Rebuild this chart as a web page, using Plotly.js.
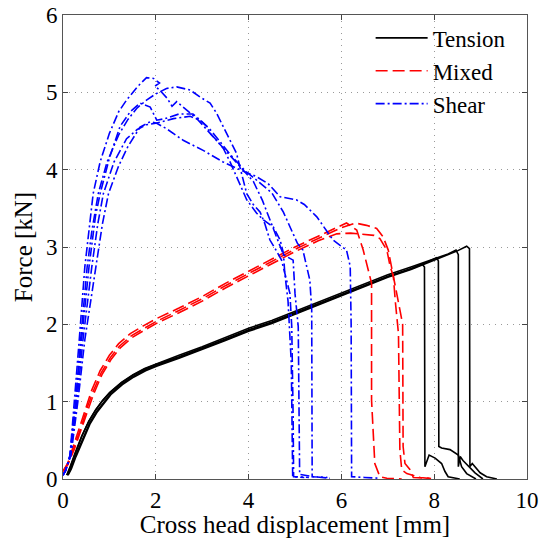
<!DOCTYPE html>
<html>
<head>
<meta charset="utf-8">
<script src="https://cdn.plot.ly/plotly-3.0.1.min.js"></script>
<style>html,body{margin:0;padding:0;background:#fff;}#chart{width:540px;height:538px;}</style>
</head>
<body>
<div id="chart"></div>
<script>
// ---- Tension (black solid) ----
const tension1X = [0.08,0.15,0.25,0.4,0.55,0.7,0.85,1.0,1.25,1.5,1.75,2.0,2.5,3.0,3.5,4.0,4.5,5.0,5.5,6.0,6.5,7.0,7.5,7.74,7.79,7.8,7.89,8.02,8.16,8.23,8.3,8.55];
const tension1Y = [0.05,0.15,0.32,0.55,0.74,0.89,1.01,1.11,1.24,1.34,1.42,1.48,1.58,1.69,1.81,1.93,2.03,2.15,2.27,2.39,2.51,2.62,2.72,2.78,2.74,0.16,0.31,0.27,0.2,0.1,0.03,0.0];
const tension2X = [0.1,0.17,0.27,0.42,0.57,0.72,0.87,1.02,1.27,1.52,1.77,2.02,2.5,3.0,3.5,4.0,4.5,5.0,5.5,6.0,6.5,7.0,7.5,7.8,8.05,8.09,8.1,8.16,8.34,8.52,8.59,8.7,8.9];
const tension2Y = [0.05,0.14,0.3,0.52,0.72,0.87,0.99,1.1,1.23,1.33,1.41,1.47,1.57,1.68,1.8,1.92,2.02,2.14,2.26,2.38,2.5,2.62,2.72,2.79,2.86,2.82,0.42,0.4,0.38,0.31,0.16,0.07,0.0];
const tension3X = [0.09,0.16,0.26,0.41,0.56,0.71,0.86,1.01,1.26,1.51,1.76,2.01,2.5,3.0,3.5,4.0,4.5,5.0,5.5,6.0,6.5,7.0,7.5,8.0,8.3,8.47,8.52,8.52,8.56,8.62,8.72,8.88,9.05];
const tension3Y = [0.05,0.16,0.33,0.56,0.75,0.9,1.02,1.12,1.25,1.35,1.43,1.49,1.6,1.71,1.83,1.95,2.05,2.17,2.29,2.41,2.53,2.64,2.74,2.84,2.91,2.96,2.9,0.16,0.29,0.24,0.18,0.08,0.0];
const tension4X = [0.11,0.18,0.28,0.43,0.58,0.73,0.88,1.03,1.28,1.53,1.78,2.03,2.5,3.0,3.5,4.0,4.5,5.0,5.5,6.0,6.5,7.0,7.5,8.0,8.5,8.7,8.76,8.77,8.82,8.99,9.13,9.35];
const tension4Y = [0.05,0.13,0.29,0.51,0.71,0.86,0.98,1.09,1.22,1.32,1.4,1.46,1.56,1.67,1.79,1.91,2.01,2.13,2.25,2.37,2.49,2.61,2.71,2.83,2.95,3.01,2.98,0.16,0.2,0.08,0.03,0.0];

// ---- Mixed (red dashed) ----
const mixed1X = [0.0,0.1,0.22,0.37,0.5,0.62,0.8,1.0,1.2,1.45,1.73,2.0,2.5,3.0,3.5,4.0,4.5,5.0,5.5,5.9,6.11,6.33,6.47,6.58,6.65,6.65,6.7,6.72,6.83,6.98,7.3];
const mixed1Y = [0.1,0.2,0.42,0.7,0.95,1.15,1.4,1.6,1.75,1.88,1.98,2.07,2.21,2.36,2.53,2.69,2.84,3.0,3.14,3.25,3.31,3.22,2.96,2.7,2.53,1.02,0.4,0.2,0.03,0.01,0.0];
const mixed2X = [0.0,0.1,0.23,0.39,0.52,0.64,0.82,1.02,1.22,1.47,1.75,2.02,2.5,3.0,3.5,4.0,4.5,5.0,5.5,6.0,6.3,6.54,6.76,6.9,7.01,7.08,7.19,7.26,7.32,7.33,7.37,7.48,7.55,7.9];
const mixed2Y = [0.1,0.19,0.4,0.67,0.92,1.12,1.37,1.57,1.72,1.85,1.95,2.04,2.18,2.33,2.5,2.66,2.81,2.97,3.11,3.25,3.31,3.28,3.24,3.13,2.96,2.75,2.44,2.19,2.0,0.42,0.2,0.12,0.02,0.01];
const mixed3X = [0.0,0.1,0.24,0.4,0.54,0.66,0.84,1.04,1.24,1.49,1.77,2.04,2.5,3.0,3.5,4.0,4.5,5.0,5.5,5.9,6.2,6.5,6.7,6.83,6.98,7.05,7.12,7.16,7.2,7.23,7.26,7.3,7.41,7.7,8.0];
const mixed3Y = [0.1,0.18,0.38,0.65,0.9,1.1,1.35,1.55,1.7,1.83,1.93,2.02,2.15,2.3,2.47,2.63,2.78,2.94,3.08,3.17,3.18,3.16,3.15,3.11,2.96,2.75,2.62,2.31,2.05,1.88,0.38,0.12,0.07,0.02,0.0];

// ---- Shear (blue dash-dot) ----
const shear1X = [0.0,0.05,0.15,0.25,0.35,0.47,0.58,0.65,0.8,1.0,1.2,1.37,1.6,1.8,1.95,2.08,1.98,2.1,2.25,2.35,2.45,2.6,2.9,3.2,3.5,3.8,4.1,4.3,4.5,4.75,4.96,5.0,5.07,5.1,5.4,5.75];
const shear1Y = [0.05,0.1,0.3,1.0,1.8,2.74,3.3,3.69,4.1,4.47,4.75,4.9,5.07,5.19,5.18,5.12,5.08,5.02,4.92,4.82,4.88,4.8,4.65,4.45,4.25,4.05,3.85,3.6,3.3,2.9,2.83,2.4,1.97,0.06,0.03,0.01];
const shear2X = [0.0,0.05,0.15,0.27,0.38,0.52,0.62,0.76,0.95,1.2,1.4,1.6,1.8,2.0,2.23,2.45,2.74,2.95,3.17,3.31,3.45,3.6,3.74,3.81,3.89,3.96,4.1,4.25,4.35,4.46,4.6,4.71,4.89,4.93,4.96,4.97,5.3];
const shear2Y = [0.05,0.1,0.3,1.0,1.8,2.74,3.2,3.69,4.1,4.45,4.65,4.8,4.9,4.98,5.05,5.07,5.03,4.94,4.86,4.73,4.56,4.38,4.21,4.04,3.87,3.69,3.55,3.45,3.3,3.09,2.95,2.83,2.4,1.97,0.8,0.03,0.02];
const shear3X = [0.0,0.05,0.15,0.28,0.4,0.56,0.7,0.8,1.0,1.23,1.45,1.66,1.88,2.02,2.2,2.5,2.8,3.0,3.2,3.4,3.6,3.9,4.2,4.5,4.75,4.9,5.05,5.17,5.25,5.32,5.36,5.37,5.37,5.7];
const shear3Y = [0.05,0.1,0.3,1.0,1.8,2.74,3.4,3.69,4.15,4.56,4.75,4.86,4.81,4.64,4.66,4.72,4.72,4.62,4.5,4.35,4.2,4.0,3.85,3.7,3.45,3.25,3.05,2.96,2.75,2.57,2.19,1.0,0.03,0.02];
const shear4X = [0.0,0.05,0.17,0.32,0.47,0.7,0.85,0.98,1.2,1.4,1.66,1.88,2.02,2.23,2.59,3.02,3.45,3.81,4.17,4.42,4.68,5.03,5.2,5.47,5.82,6.11,6.19,6.21,6.22,6.5,6.8];
const shear4Y = [0.05,0.1,0.3,1.0,1.8,2.74,3.3,3.69,4.05,4.3,4.55,4.62,4.6,4.53,4.38,4.25,4.1,4.0,3.91,3.82,3.65,3.61,3.55,3.39,3.09,2.96,2.75,2.0,0.03,0.02,0.01];
const shear5X = [0.0,0.05,0.16,0.3,0.43,0.62,0.75,0.87,1.1,1.37,1.6,1.8,2.0,2.38,2.74,2.95,3.1,3.17,3.31,3.45,3.6,3.81,3.96,4.17,4.32,4.53,4.68,4.75,4.78,4.85,4.92,4.95,5.2];
const shear5Y = [0.05,0.1,0.3,1.0,1.8,2.74,3.3,3.69,4.1,4.4,4.52,4.58,4.6,4.66,4.69,4.64,4.56,4.47,4.38,4.28,4.1,3.82,3.61,3.44,3.35,3.26,3.09,2.92,2.66,2.3,1.5,0.03,0.02];

const legendNames = ['Tension','Mixed','Shear'];
const xTickVals = [0,2,4,6,8,10];
const yTickVals = [0,1,2,3,4,5,6];

const tensionStyle = {color:'#000000', width:1.6, dash:'solid'};
const mixedStyle = {color:'#ff0000', width:1.6, dash:'12px,5px'};
const shearStyle = {color:'#0000ff', width:1.6, dash:'9px,3px,2px,3px'};

function tr(x, y, style, group, name, show) {
  return {x:x, y:y, type:'scatter', mode:'lines', line:style, legendgroup:group, name:name, showlegend:show, hoverinfo:'skip'};
}

const data = [
  tr(tension1X, tension1Y, tensionStyle, 't', legendNames[0], true),
  tr(tension2X, tension2Y, tensionStyle, 't', legendNames[0], false),
  tr(tension3X, tension3Y, tensionStyle, 't', legendNames[0], false),
  tr(tension4X, tension4Y, tensionStyle, 't', legendNames[0], false),
  tr(mixed1X, mixed1Y, mixedStyle, 'm', legendNames[1], true),
  tr(mixed2X, mixed2Y, mixedStyle, 'm', legendNames[1], false),
  tr(mixed3X, mixed3Y, mixedStyle, 'm', legendNames[1], false),
  tr(shear1X, shear1Y, shearStyle, 's', legendNames[2], true),
  tr(shear2X, shear2Y, shearStyle, 's', legendNames[2], false),
  tr(shear3X, shear3Y, shearStyle, 's', legendNames[2], false),
  tr(shear4X, shear4Y, shearStyle, 's', legendNames[2], false),
  tr(shear5X, shear5Y, shearStyle, 's', legendNames[2], false)
];

const serif = "'Liberation Serif', serif";
const tickFont = {family:serif, size:23, color:'#000'};
const titleFont = {family:serif, size:25, color:'#000'};

const layout = {
  width:540, height:538,
  margin:{l:63, r:13, t:15, b:59, pad:0},
  paper_bgcolor:'#ffffff', plot_bgcolor:'#ffffff',
  font:tickFont,
  showlegend:true,
  legend:{x:0.663, y:0.997, xanchor:'left', yanchor:'top', bgcolor:'rgba(0,0,0,0)', borderwidth:0,
          font:{family:serif, size:23, color:'#000'}, itemwidth:52, tracegroupgap:0},
  xaxis:{range:[0,10], tickvals:xTickVals, ticks:'inside', ticklen:5, tickcolor:'#444', mirror:'ticks',
         showline:true, linecolor:'#555', linewidth:1, showgrid:true, gridcolor:'#999999', griddash:'1px,5px', gridwidth:1,
         zeroline:false, tickfont:tickFont,
         title:{text:'Cross head displacement [mm]', font:titleFont, standoff:2}},
  yaxis:{range:[0,6], tickvals:yTickVals, ticks:'inside', ticklen:5, tickcolor:'#444', mirror:'ticks',
         showline:true, linecolor:'#555', linewidth:1, showgrid:true, gridcolor:'#999999', griddash:'1px,5px', gridwidth:1,
         zeroline:false, tickfont:tickFont,
         title:{text:'Force [kN]', font:titleFont, standoff:6}}
};

Plotly.newPlot('chart', data, layout, {displayModeBar:false, staticPlot:true});
</script>
</body>
</html>
